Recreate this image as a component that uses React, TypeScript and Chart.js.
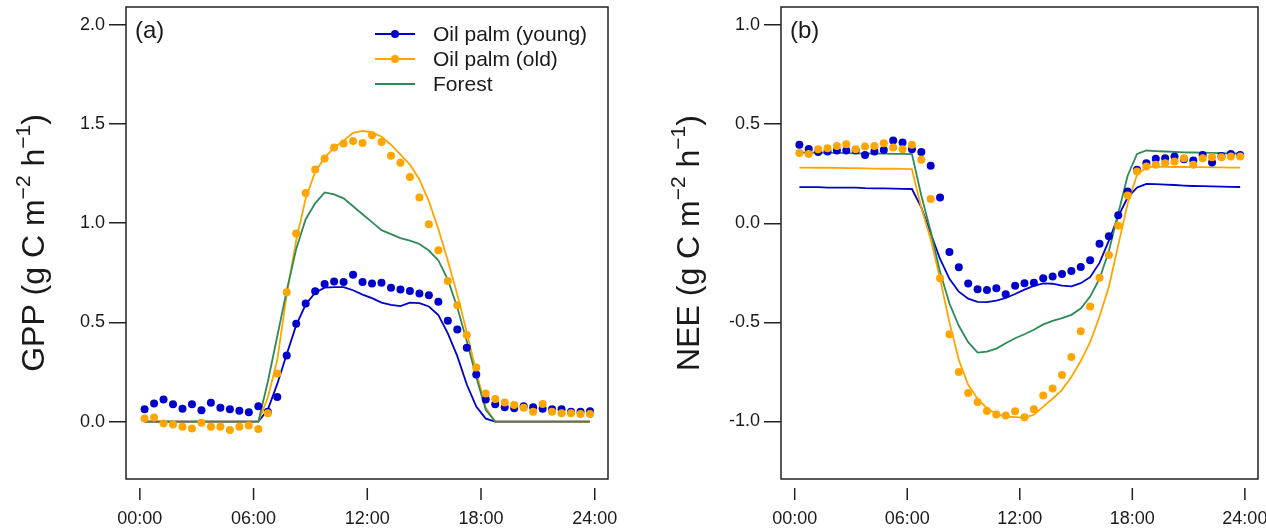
import React, { useEffect, useRef } from "react";
import { Chart, registerables } from "chart.js";

Chart.register(...registerables);

// ---------- data ----------
const TIMES = [
  0.25, 0.75, 1.25, 1.75, 2.25, 2.75, 3.25, 3.75, 4.25, 4.75, 5.25, 5.75,
  6.25, 6.75, 7.25, 7.75, 8.25, 8.75, 9.25, 9.75, 10.25, 10.75, 11.25, 11.75,
  12.25, 12.75, 13.25, 13.75, 14.25, 14.75, 15.25, 15.75, 16.25, 16.75, 17.25, 17.75,
  18.25, 18.75, 19.25, 19.75, 20.25, 20.75, 21.25, 21.75, 22.25, 22.75, 23.25, 23.75,
];

const X_TICKS = [0, 6, 12, 18, 24];
const X_TICK_LABELS = ["00:00", "06:00", "12:00", "18:00", "24:00"];
const GPP_TICKS = [0, 0.5, 1.0, 1.5, 2.0];
const NEE_TICKS = [-1.0, -0.5, 0, 0.5, 1.0];
const SERIES_LABELS = ["Oil palm (young)", "Oil palm (old)", "Forest"];
const GPP_TITLE = ["GPP (g C m", "\u22122", " h", "\u22121", ")"];
const NEE_TITLE = ["NEE (g C m", "\u22122", " h", "\u22121", ")"];

// GPP observations (dots)
const GPP_YOUNG_OBS = [
  0.062, 0.092, 0.112, 0.087, 0.065, 0.087, 0.058, 0.095, 0.07, 0.062, 0.055, 0.047,
  0.078, 0.05, 0.124, 0.333, 0.493, 0.595, 0.657, 0.694, 0.706, 0.704, 0.74, 0.704,
  0.696, 0.7, 0.675, 0.666, 0.658, 0.646, 0.637, 0.604, 0.508, 0.464, 0.372, 0.238,
  0.112, 0.088, 0.072, 0.068, 0.078, 0.072, 0.065, 0.063, 0.062, 0.05, 0.05, 0.052,
];
const GPP_OLD_OBS = [
  0.016, 0.021, -0.009, -0.014, -0.026, -0.034, -0.005, -0.026, -0.026, -0.042, -0.026, -0.02,
  -0.037, 0.042, 0.243, 0.652, 0.948, 1.152, 1.27, 1.326, 1.381, 1.401, 1.414, 1.404,
  1.443, 1.409, 1.339, 1.304, 1.233, 1.129, 0.995, 0.864, 0.709, 0.587, 0.436, 0.273,
  0.142, 0.114, 0.097, 0.084, 0.07, 0.05, 0.089, 0.05, 0.042, 0.042, 0.038, 0.038,
];
// GPP model lines
const GPP_YOUNG_MOD = [
  0, 0, 0, 0, 0, 0, 0, 0, 0, 0, 0, 0,
  0, 0.06, 0.19, 0.34, 0.486, 0.59, 0.65, 0.675, 0.678, 0.678, 0.662, 0.64,
  0.622, 0.6, 0.588, 0.582, 0.6, 0.597, 0.58, 0.537, 0.445, 0.33, 0.187, 0.076,
  0.015, 0, 0, 0, 0, 0, 0, 0, 0, 0, 0, 0,
];
const GPP_OLD_MOD = [
  0, 0, 0, 0, 0, 0, 0, 0, 0, 0, 0, 0,
  0, 0.12, 0.31, 0.64, 0.914, 1.124, 1.258, 1.33, 1.38, 1.415, 1.455, 1.465,
  1.458, 1.435, 1.395, 1.345, 1.295, 1.22, 1.11, 0.97, 0.81, 0.64, 0.45, 0.25,
  0.07, 0, 0, 0, 0, 0, 0, 0, 0, 0, 0, 0,
];
const GPP_FOREST_MOD = [
  0, 0, 0, 0, 0, 0, 0, 0, 0, 0, 0, 0,
  0, 0.2, 0.43, 0.66, 0.87, 1.02, 1.1, 1.155, 1.145, 1.125, 1.085, 1.045,
  1.005, 0.965, 0.945, 0.925, 0.912, 0.895, 0.862, 0.812, 0.715, 0.575, 0.405, 0.225,
  0.06, 0, 0, 0, 0, 0, 0, 0, 0, 0, 0, 0,
];

// NEE observations (dots)
const NEE_YOUNG_OBS = [
  0.396, 0.375, 0.36, 0.362, 0.367, 0.367, 0.367, 0.345, 0.362, 0.37, 0.418, 0.407,
  0.374, 0.359, 0.29, 0.13, -0.145, -0.222, -0.304, -0.333, -0.337, -0.328, -0.358, -0.315,
  -0.303, -0.3, -0.277, -0.268, -0.256, -0.241, -0.221, -0.187, -0.103, -0.066, 0.04, 0.16,
  0.27, 0.303, 0.325, 0.328, 0.337, 0.323, 0.317, 0.345, 0.307, 0.34, 0.35, 0.345,
];
const NEE_OLD_OBS = [
  0.354, 0.349, 0.374, 0.379, 0.39, 0.399, 0.374, 0.387, 0.39, 0.404, 0.382, 0.374,
  0.396, 0.32, 0.122, -0.277, -0.56, -0.75, -0.856, -0.902, -0.947, -0.964, -0.97, -0.948,
  -0.979, -0.938, -0.869, -0.834, -0.766, -0.675, -0.545, -0.42, -0.275, -0.16, -0.012, 0.14,
  0.261, 0.286, 0.295, 0.303, 0.312, 0.328, 0.295, 0.328, 0.333, 0.333, 0.337, 0.337,
];
// NEE model lines
const NEE_YOUNG_MOD = [
  0.182, 0.182, 0.182, 0.18, 0.18, 0.18, 0.18, 0.177, 0.176, 0.176, 0.175, 0.174,
  0.173, 0.08, -0.05, -0.18, -0.28, -0.345, -0.38, -0.396, -0.398, -0.39, -0.377, -0.357,
  -0.335, -0.316, -0.303, -0.305, -0.315, -0.318, -0.302, -0.272, -0.2, -0.088, 0.035, 0.13,
  0.18, 0.198, 0.197, 0.195, 0.193, 0.19, 0.188, 0.187, 0.186, 0.185, 0.184, 0.183,
];
const NEE_OLD_MOD = [
  0.281, 0.281, 0.28, 0.28, 0.279, 0.278, 0.278, 0.277, 0.276, 0.275, 0.275, 0.274,
  0.273, 0.08, -0.08, -0.28, -0.5, -0.69, -0.815, -0.885, -0.933, -0.962, -0.976, -0.978,
  -0.98, -0.966, -0.925, -0.885, -0.84, -0.775, -0.695, -0.6, -0.47, -0.32, -0.11, 0.1,
  0.245, 0.283, 0.285, 0.285, 0.284, 0.284, 0.283, 0.283, 0.282, 0.282, 0.281, 0.281,
];
const NEE_FOREST_MOD = [
  0.357, 0.356, 0.356, 0.355, 0.355, 0.354, 0.353, 0.352, 0.352, 0.351, 0.35, 0.35,
  0.349, 0.14, -0.04, -0.245, -0.405, -0.517, -0.6, -0.652, -0.647, -0.632, -0.605, -0.58,
  -0.56, -0.537, -0.51, -0.492, -0.478, -0.462, -0.43, -0.37, -0.28, -0.14, 0.05, 0.24,
  0.35, 0.367, 0.364, 0.362, 0.36, 0.358, 0.357, 0.356, 0.355, 0.354, 0.353, 0.352,
];

// ---------- styles ----------
const BLUE = "#0000CD";
const ORANGE = "#FFA500";
const GREEN = "#2E8B57";
const INK = "#1a1a1a";
const FONT = '"Liberation Sans", Arial, Helvetica, sans-serif';

type PanelProps = {
  left: number;
  width: number;
  axisWidth: number;
  padRight: number;
  yMin: number;
  yMax: number;
  yTicks: number[];
  title: string[];
  letter: string;
  legend: boolean;
  youngObs: number[];
  oldObs: number[];
  youngMod: number[];
  oldMod: number[];
  forestMod: number[];
};

const HEIGHT = 531;
const TOP = 7;
const BOTTOM = 479;

function pts(ys: number[]) {
  return ys.map((y, i) => ({ x: TIMES[i], y }));
}

function Panel(p: PanelProps) {
  const ref = useRef<HTMLCanvasElement | null>(null);

  useEffect(() => {
    const canvas = ref.current;
    if (!canvas) return;

    const decor = {
      id: "panelDecor",
      afterDraw(chart: any) {
        const { ctx, chartArea: a, scales } = chart;
        ctx.save();
        // box
        ctx.strokeStyle = "#222";
        ctx.lineWidth = 1.5;
        ctx.strokeRect(a.left, a.top, a.right - a.left, a.bottom - a.top);
        // detached x ticks
        ctx.beginPath();
        X_TICKS.forEach((v) => {
          const px = scales.x.getPixelForValue(v);
          ctx.moveTo(px, a.bottom + 9);
          ctx.lineTo(px, a.bottom + 21);
        });
        ctx.stroke();
        // panel letter
        ctx.fillStyle = INK;
        ctx.font = `24px ${FONT}`;
        ctx.textAlign = "left";
        ctx.textBaseline = "middle";
        ctx.fillText(p.letter, a.left + 9, a.top + 24);
        // y title with superscripts
        const fs = 32;
        const sfs = 21;
        let total = 0;
        const widths = p.title.map((t, i) => {
          ctx.font = `${i % 2 === 1 ? sfs : fs}px ${FONT}`;
          const w = ctx.measureText(t).width;
          total += w;
          return w;
        });
        ctx.save();
        ctx.translate(a.left - 93.5, (a.top + a.bottom) / 2);
        ctx.rotate(-Math.PI / 2);
        ctx.textBaseline = "alphabetic";
        let x = -total / 2;
        const base = 0.36 * fs;
        p.title.forEach((t, i) => {
          const sup = i % 2 === 1;
          ctx.font = `${sup ? sfs : fs}px ${FONT}`;
          ctx.fillText(t, x, sup ? base - 0.45 * fs : base);
          x += widths[i];
        });
        ctx.restore();
        // legend
        if (p.legend) {
          const entries = [
            { label: SERIES_LABELS[0], color: BLUE, dot: true },
            { label: SERIES_LABELS[1], color: ORANGE, dot: true },
            { label: SERIES_LABELS[2], color: GREEN, dot: false },
          ];
          const lx = 375;
          entries.forEach((e, i) => {
            const y = 34 + i * 25;
            ctx.strokeStyle = e.color;
            ctx.lineWidth = 1.8;
            ctx.beginPath();
            ctx.moveTo(lx, y);
            ctx.lineTo(lx + 40, y);
            ctx.stroke();
            if (e.dot) {
              ctx.fillStyle = e.color;
              ctx.beginPath();
              ctx.arc(lx + 20, y, 4, 0, Math.PI * 2);
              ctx.fill();
            }
            ctx.fillStyle = INK;
            ctx.font = `21px ${FONT}`;
            ctx.textAlign = "left";
            ctx.textBaseline = "middle";
            ctx.fillText(e.label, lx + 58, y + 1);
          });
        }
        ctx.restore();
      },
    };

    const dots = (data: number[], color: string, label: string) => ({
      label,
      data: pts(data),
      showLine: false,
      pointRadius: 4,
      pointHoverRadius: 4,
      pointBorderWidth: 0,
      pointBackgroundColor: color,
      pointBorderColor: color,
      borderColor: color,
      backgroundColor: color,
    });
    const line = (data: number[], color: string, label: string) => ({
      label,
      data: pts(data),
      showLine: true,
      borderColor: color,
      backgroundColor: color,
      borderWidth: 1.8,
      pointRadius: 0,
      tension: 0,
      fill: false,
    });

    const tickFont = { family: FONT, size: 18 };

    const chart = new Chart(canvas, {
      type: "line",
      data: {
        datasets: [
          dots(p.oldObs, ORANGE, SERIES_LABELS[1] + " obs"),
          dots(p.youngObs, BLUE, SERIES_LABELS[0] + " obs"),
          line(p.forestMod, GREEN, SERIES_LABELS[2]),
          line(p.oldMod, ORANGE, SERIES_LABELS[1]),
          line(p.youngMod, BLUE, SERIES_LABELS[0]),
        ] as any,
      },
      options: {
        responsive: false,
        animation: false,
        devicePixelRatio: 1,
        layout: { padding: { left: 0, right: p.padRight, top: TOP, bottom: 0 } },
        plugins: { legend: { display: false }, tooltip: { enabled: false } },
        events: [],
        scales: {
          x: {
            type: "linear",
            min: -0.73,
            max: 24.7,
            bounds: "data",
            afterBuildTicks: (s: any) => {
              s.ticks = X_TICKS.map((v) => ({ value: v }));
            },
            afterFit: (s: any) => {
              s.height = HEIGHT - BOTTOM;
              s.paddingLeft = 0;
              s.paddingRight = 0;
            },
            ticks: {
              callback: (_v: any, i: number) => X_TICK_LABELS[i],
              font: tickFont,
              color: INK,
              padding: 8,
              maxRotation: 0,
              autoSkip: false,
            },
            grid: {
              drawOnChartArea: false,
              drawTicks: true,
              tickLength: 21,
              color: "rgba(0,0,0,0)",
            },
            border: { display: false },
          },
          y: {
            type: "linear",
            min: p.yMin,
            max: p.yMax,
            bounds: "data",
            afterBuildTicks: (s: any) => {
              s.ticks = p.yTicks.map((v) => ({ value: v }));
            },
            afterFit: (s: any) => {
              s.width = p.axisWidth;
              s.paddingTop = 0;
              s.paddingBottom = 0;
            },
            ticks: {
              callback: (v: any) => Number(v).toFixed(1),
              font: tickFont,
              color: INK,
              padding: 4,
            },
            grid: {
              drawOnChartArea: false,
              drawTicks: true,
              tickLength: 17,
              color: "#222",
              lineWidth: 1.5,
            },
            border: { display: false },
          },
        },
      } as any,
      plugins: [decor],
    });
    return () => chart.destroy();
  }, []);

  return (
    <canvas
      ref={ref}
      width={p.width}
      height={HEIGHT}
      style={{ position: "absolute", left: p.left, top: 0, width: p.width, height: HEIGHT }}
    />
  );
}

export default function App() {
  return (
    <div
      style={{
        position: "absolute",
        left: 0,
        top: 0,
        width: 1266,
        height: HEIGHT,
        background: "#fff",
        overflow: "hidden",
      }}
    >
      <Panel
        left={0}
        width={633}
        axisWidth={126}
        padRight={25}
        yMin={-0.289}
        yMax={2.089}
        yTicks={GPP_TICKS}
        title={GPP_TITLE}
        letter="(a)"
        legend={true}
        youngObs={GPP_YOUNG_OBS}
        oldObs={GPP_OLD_OBS}
        youngMod={GPP_YOUNG_MOD}
        oldMod={GPP_OLD_MOD}
        forestMod={GPP_FOREST_MOD}
      />
      <Panel
        left={633}
        width={633}
        axisWidth={148}
        padRight={8}
        yMin={-1.29}
        yMax={1.091}
        yTicks={NEE_TICKS}
        title={NEE_TITLE}
        letter="(b)"
        legend={false}
        youngObs={NEE_YOUNG_OBS}
        oldObs={NEE_OLD_OBS}
        youngMod={NEE_YOUNG_MOD}
        oldMod={NEE_OLD_MOD}
        forestMod={NEE_FOREST_MOD}
      />
    </div>
  );
}
